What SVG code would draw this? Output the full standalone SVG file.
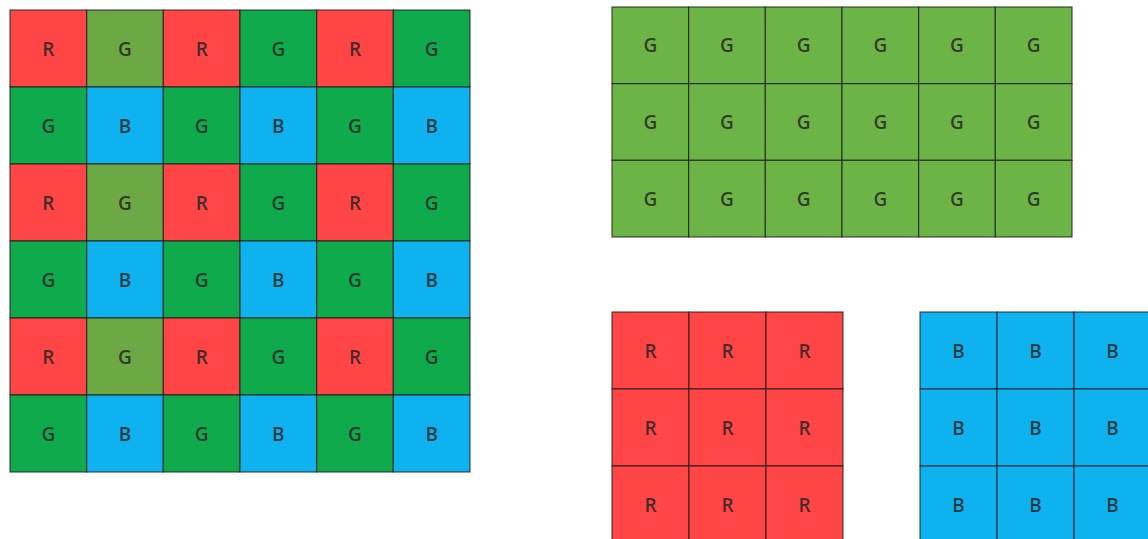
<svg xmlns="http://www.w3.org/2000/svg" width="1148" height="539" viewBox="0 0 1148 539">
<style>
.c rect{stroke:#1a1a1a;stroke-opacity:0.75;stroke-width:1.2}
.r{fill:#FF4545}.g{fill:#0FAA4C}.o{fill:#6CA843}.b{fill:#0DB2EF}.gg{fill:#6DB446}
text{font-family:"Open Sans","Liberation Sans",sans-serif;font-size:19px;font-weight:600;fill:#262626;fill-opacity:0.85;text-anchor:middle;dominant-baseline:central}
</style>
<rect x="0" y="0" width="1148" height="539" fill="#fff"/>
<g id="bayer" class="c">
<!-- row 0 -->
<rect class="r" x="10" y="10" width="76.67" height="77"/><text x="48.3" y="48.5">R</text>
<rect class="o" x="86.67" y="10" width="76.67" height="77"/><text x="125" y="48.5">G</text>
<rect class="r" x="163.33" y="10" width="76.67" height="77"/><text x="201.7" y="48.5">R</text>
<rect class="g" x="240" y="10" width="76.67" height="77"/><text x="278.3" y="48.5">G</text>
<rect class="r" x="316.67" y="10" width="76.67" height="77"/><text x="355" y="48.5">R</text>
<rect class="g" x="393.33" y="10" width="76.67" height="77"/><text x="431.7" y="48.5">G</text>
<!-- row 1 -->
<rect class="g" x="10" y="87" width="76.67" height="77"/><text x="48.3" y="125.5">G</text>
<rect class="b" x="86.67" y="87" width="76.67" height="77"/><text x="125" y="125.5">B</text>
<rect class="g" x="163.33" y="87" width="76.67" height="77"/><text x="201.7" y="125.5">G</text>
<rect class="b" x="240" y="87" width="76.67" height="77"/><text x="278.3" y="125.5">B</text>
<rect class="g" x="316.67" y="87" width="76.67" height="77"/><text x="355" y="125.5">G</text>
<rect class="b" x="393.33" y="87" width="76.67" height="77"/><text x="431.7" y="125.5">B</text>
<!-- row 2 -->
<rect class="r" x="10" y="164" width="76.67" height="77"/><text x="48.3" y="202.5">R</text>
<rect class="o" x="86.67" y="164" width="76.67" height="77"/><text x="125" y="202.5">G</text>
<rect class="r" x="163.33" y="164" width="76.67" height="77"/><text x="201.7" y="202.5">R</text>
<rect class="g" x="240" y="164" width="76.67" height="77"/><text x="278.3" y="202.5">G</text>
<rect class="r" x="316.67" y="164" width="76.67" height="77"/><text x="355" y="202.5">R</text>
<rect class="g" x="393.33" y="164" width="76.67" height="77"/><text x="431.7" y="202.5">G</text>
<!-- row 3 -->
<rect class="g" x="10" y="241" width="76.67" height="77"/><text x="48.3" y="279.5">G</text>
<rect class="b" x="86.67" y="241" width="76.67" height="77"/><text x="125" y="279.5">B</text>
<rect class="g" x="163.33" y="241" width="76.67" height="77"/><text x="201.7" y="279.5">G</text>
<rect class="b" x="240" y="241" width="76.67" height="77"/><text x="278.3" y="279.5">B</text>
<rect class="g" x="316.67" y="241" width="76.67" height="77"/><text x="355" y="279.5">G</text>
<rect class="b" x="393.33" y="241" width="76.67" height="77"/><text x="431.7" y="279.5">B</text>
<!-- row 4 -->
<rect class="r" x="10" y="318" width="76.67" height="77"/><text x="48.3" y="356.5">R</text>
<rect class="o" x="86.67" y="318" width="76.67" height="77"/><text x="125" y="356.5">G</text>
<rect class="r" x="163.33" y="318" width="76.67" height="77"/><text x="201.7" y="356.5">R</text>
<rect class="g" x="240" y="318" width="76.67" height="77"/><text x="278.3" y="356.5">G</text>
<rect class="r" x="316.67" y="318" width="76.67" height="77"/><text x="355" y="356.5">R</text>
<rect class="g" x="393.33" y="318" width="76.67" height="77"/><text x="431.7" y="356.5">G</text>
<!-- row 5 -->
<rect class="g" x="10" y="395" width="76.67" height="77"/><text x="48.3" y="433.5">G</text>
<rect class="b" x="86.67" y="395" width="76.67" height="77"/><text x="125" y="433.5">B</text>
<rect class="g" x="163.33" y="395" width="76.67" height="77"/><text x="201.7" y="433.5">G</text>
<rect class="b" x="240" y="395" width="76.67" height="77"/><text x="278.3" y="433.5">B</text>
<rect class="g" x="316.67" y="395" width="76.67" height="77"/><text x="355" y="433.5">G</text>
<rect class="b" x="393.33" y="395" width="76.67" height="77"/><text x="431.7" y="433.5">B</text>
</g>
<g id="green" class="c">
<rect class="gg" x="612" y="7" width="76.67" height="76.67"/><text x="650.3" y="45.3">G</text>
<rect class="gg" x="688.67" y="7" width="76.67" height="76.67"/><text x="727" y="45.3">G</text>
<rect class="gg" x="765.33" y="7" width="76.67" height="76.67"/><text x="803.7" y="45.3">G</text>
<rect class="gg" x="842" y="7" width="76.67" height="76.67"/><text x="880.3" y="45.3">G</text>
<rect class="gg" x="918.67" y="7" width="76.67" height="76.67"/><text x="957" y="45.3">G</text>
<rect class="gg" x="995.33" y="7" width="76.67" height="76.67"/><text x="1033.7" y="45.3">G</text>
<rect class="gg" x="612" y="83.67" width="76.67" height="76.67"/><text x="650.3" y="122">G</text>
<rect class="gg" x="688.67" y="83.67" width="76.67" height="76.67"/><text x="727" y="122">G</text>
<rect class="gg" x="765.33" y="83.67" width="76.67" height="76.67"/><text x="803.7" y="122">G</text>
<rect class="gg" x="842" y="83.67" width="76.67" height="76.67"/><text x="880.3" y="122">G</text>
<rect class="gg" x="918.67" y="83.67" width="76.67" height="76.67"/><text x="957" y="122">G</text>
<rect class="gg" x="995.33" y="83.67" width="76.67" height="76.67"/><text x="1033.7" y="122">G</text>
<rect class="gg" x="612" y="160.33" width="76.67" height="76.67"/><text x="650.3" y="198.7">G</text>
<rect class="gg" x="688.67" y="160.33" width="76.67" height="76.67"/><text x="727" y="198.7">G</text>
<rect class="gg" x="765.33" y="160.33" width="76.67" height="76.67"/><text x="803.7" y="198.7">G</text>
<rect class="gg" x="842" y="160.33" width="76.67" height="76.67"/><text x="880.3" y="198.7">G</text>
<rect class="gg" x="918.67" y="160.33" width="76.67" height="76.67"/><text x="957" y="198.7">G</text>
<rect class="gg" x="995.33" y="160.33" width="76.67" height="76.67"/><text x="1033.7" y="198.7">G</text>
</g>
<g id="red" class="c">
<rect class="r" x="612" y="312" width="77" height="77"/><text x="650.5" y="350.5">R</text>
<rect class="r" x="689" y="312" width="77" height="77"/><text x="727.5" y="350.5">R</text>
<rect class="r" x="766" y="312" width="77" height="77"/><text x="804.5" y="350.5">R</text>
<rect class="r" x="612" y="389" width="77" height="77"/><text x="650.5" y="427.5">R</text>
<rect class="r" x="689" y="389" width="77" height="77"/><text x="727.5" y="427.5">R</text>
<rect class="r" x="766" y="389" width="77" height="77"/><text x="804.5" y="427.5">R</text>
<rect class="r" x="612" y="466" width="77" height="77"/><text x="650.5" y="504.5">R</text>
<rect class="r" x="689" y="466" width="77" height="77"/><text x="727.5" y="504.5">R</text>
<rect class="r" x="766" y="466" width="77" height="77"/><text x="804.5" y="504.5">R</text>
</g>
<g id="blue" class="c">
<rect class="b" x="920" y="312" width="77" height="77"/><text x="958.5" y="350.5">B</text>
<rect class="b" x="997" y="312" width="77" height="77"/><text x="1035.5" y="350.5">B</text>
<rect class="b" x="1074" y="312" width="77" height="77"/><text x="1112.5" y="350.5">B</text>
<rect class="b" x="920" y="389" width="77" height="77"/><text x="958.5" y="427.5">B</text>
<rect class="b" x="997" y="389" width="77" height="77"/><text x="1035.5" y="427.5">B</text>
<rect class="b" x="1074" y="389" width="77" height="77"/><text x="1112.5" y="427.5">B</text>
<rect class="b" x="920" y="466" width="77" height="77"/><text x="958.5" y="504.5">B</text>
<rect class="b" x="997" y="466" width="77" height="77"/><text x="1035.5" y="504.5">B</text>
<rect class="b" x="1074" y="466" width="77" height="77"/><text x="1112.5" y="504.5">B</text>
</g>
<g id="connectors"></g>
</svg>
